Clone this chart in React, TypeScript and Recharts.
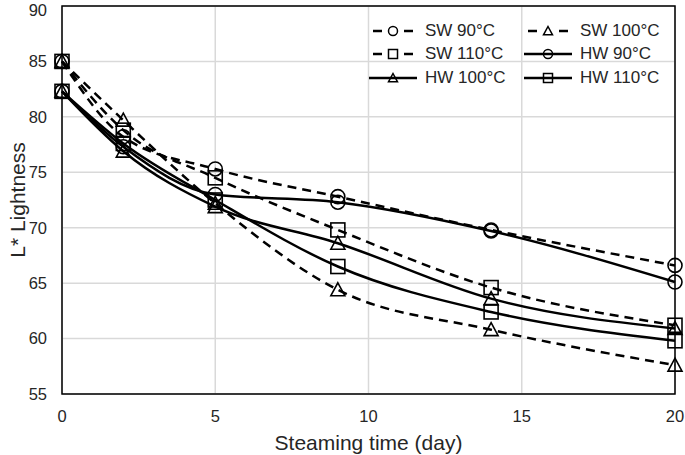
import {
  LineChart,
  Line,
  XAxis,
  YAxis,
  CartesianGrid,
  Legend,
  ReferenceArea,
} from "recharts";

const days = [0, 2, 5, 9, 14, 20];

const sw90 = [85.0, 78.2, 75.3, 72.8, 69.8, 66.6];
const sw100 = [85.0, 79.7, 72.2, 64.4, 60.8, 57.6];
const sw110 = [85.0, 78.8, 74.5, 69.8, 64.6, 61.2];
const hw90 = [82.3, 77.3, 73.0, 72.3, 69.7, 65.1];
const hw100 = [82.3, 76.9, 71.9, 68.6, 63.6, 60.9];
const hw110 = [82.3, 77.6, 72.5, 66.5, 62.4, 59.8];

const xTicks = [0, 5, 10, 15, 20];
const yTicks = [55, 60, 65, 70, 75, 80, 85, 90];

type Shape = "circle" | "triangle" | "square";

interface SeriesDef {
  key: string;
  name: string;
  values: number[];
  shape: Shape;
  dashed: boolean;
}

const series: SeriesDef[] = [
  { key: "sw90", name: "SW 90°C", values: sw90, shape: "circle", dashed: true },
  { key: "sw100", name: "SW 100°C", values: sw100, shape: "triangle", dashed: true },
  { key: "sw110", name: "SW 110°C", values: sw110, shape: "square", dashed: true },
  { key: "hw90", name: "HW 90°C", values: hw90, shape: "circle", dashed: false },
  { key: "hw100", name: "HW 100°C", values: hw100, shape: "triangle", dashed: false },
  { key: "hw110", name: "HW 110°C", values: hw110, shape: "square", dashed: false },
];

const data = days.map((day, i) => {
  const row: Record<string, number> = { day };
  series.forEach((s) => {
    row[s.key] = s.values[i];
  });
  return row;
});

const FONT = "'Liberation Sans', Arial, sans-serif";
const TEXT = "#262626";

function Marker({ shape, cx, cy, size, sw }: { shape: Shape; cx: number; cy: number; size: number; sw: number }) {
  const h = size / 2;
  if (shape === "circle") {
    return <circle cx={cx} cy={cy} r={h} fill="none" stroke="#000" strokeWidth={sw} />;
  }
  if (shape === "square") {
    return <rect x={cx - h} y={cy - h} width={size} height={size} fill="none" stroke="#000" strokeWidth={sw} />;
  }
  const pts = `${cx},${cy - h} ${cx + h},${cy + h * 0.85} ${cx - h},${cy + h * 0.85}`;
  return <polygon points={pts} fill="none" stroke="#000" strokeWidth={sw} />;
}

function LegendBox() {
  return (
    <div
      style={{
        display: "grid",
        gridTemplateColumns: "155px 155px",
        fontFamily: FONT,
        fontSize: 17,
        color: TEXT,
      }}
    >
      {series.map((s) => (
        <div key={s.key} style={{ display: "flex", alignItems: "center", height: 23.5 }}>
          <svg width={48} height={20} style={{ marginRight: 8 }}>
            {s.dashed ? (
              <>
                <line x1={4} y1={10} x2={13} y2={10} stroke="#000" strokeWidth={2.5} />
                <line x1={35} y1={10} x2={44} y2={10} stroke="#000" strokeWidth={2.5} />
              </>
            ) : (
              <line x1={0} y1={10} x2={48} y2={10} stroke="#000" strokeWidth={2.5} />
            )}
            <Marker shape={s.shape} cx={24} cy={10} size={9} sw={1.5} />
          </svg>
          <span>{s.name}</span>
        </div>
      ))}
    </div>
  );
}

export default function App() {
  return (
    <div style={{ position: "absolute", left: 0, top: 0, background: "#fff" }}>
      <LineChart
        width={685}
        height={455}
        data={data}
        margin={{ top: 6, right: 10, left: 0, bottom: 0 }}
      >
        <CartesianGrid stroke="#d9d9d9" strokeWidth={1.5} />
        <XAxis
          dataKey="day"
          type="number"
          domain={[0, 20]}
          ticks={xTicks}
          height={61}
          axisLine={false}
          tickLine={false}
          tickSize={6}
          tickMargin={10}
          tick={{ fill: TEXT, fontSize: 16.5, fontFamily: FONT }}
          label={{
            value: "Steaming time (day)",
            position: "insideBottom",
            offset: 5,
            style: { fill: TEXT, fontSize: 21, fontFamily: FONT },
          }}
        />
        <YAxis
          type="number"
          domain={[55, 90]}
          ticks={yTicks}
          width={62}
          axisLine={false}
          tickLine={false}
          tickSize={6}
          tickMargin={9}
          tick={{ fill: TEXT, fontSize: 16.5, fontFamily: FONT }}
          label={{
            value: "L* Lightness",
            angle: -90,
            position: "insideLeft",
            offset: 18,
            style: { fill: TEXT, fontSize: 21, fontFamily: FONT, textAnchor: "middle" },
          }}
        />
        <ReferenceArea x1={0} x2={20} y1={55} y2={90} fill="none" stroke="#000" strokeWidth={1.5} />
        {series.map((s) => (
          <Line
            key={s.key}
            dataKey={s.key}
            name={s.name}
            type="monotone"
            stroke="#000"
            strokeWidth={2.5}
            strokeDasharray={s.dashed ? "9 6" : undefined}
            isAnimationActive={false}
            activeDot={false}
            dot={(p: any) => (
              <Marker key={`${s.key}-${p.index}`} shape={s.shape} cx={p.cx} cy={p.cy} size={14} sw={1.6} />
            )}
          />
        ))}
        <Legend
          layout="horizontal"
          verticalAlign="middle"
          align="center"
          content={() => <LegendBox />}
          wrapperStyle={{ left: 369, top: 19, width: 310 }}
        />
      </LineChart>
    </div>
  );
}
